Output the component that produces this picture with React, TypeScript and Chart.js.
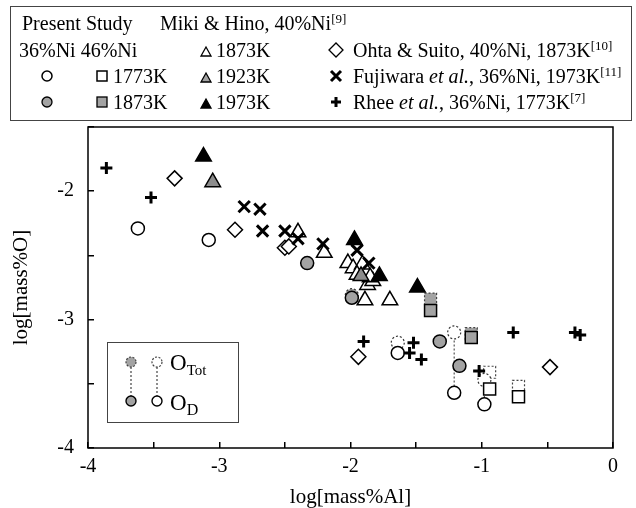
import React, { useEffect, useRef } from 'react';
import { Chart, registerables } from 'chart.js';

Chart.register(...registerables);

// ---- data (log[mass%Al], log[mass%O]) ----
const rheeX = [-3.86, -3.52, -1.9, -1.52, -1.55, -1.46, -1.02, -0.76, -0.29, -0.25];
const rheeY = [-1.82, -2.05, -3.17, -3.18, -3.26, -3.31, -3.4, -3.1, -3.1, -3.12];

const ohtaX = [-3.34, -2.88, -2.5, -2.47, -1.94, -0.48];
const ohtaY = [-1.9, -2.3, -2.44, -2.43, -3.29, -3.37];

const fujiX = [-2.81, -2.69, -2.67, -2.5, -2.4, -2.21, -1.95, -1.86];
const fujiY = [-2.12, -2.14, -2.31, -2.31, -2.37, -2.41, -2.46, -2.56];

const miki1873X = [-2.4, -2.2, -2.02, -1.98, -1.91, -1.95, -1.87, -1.83, -1.85, -1.89, -1.7];
const miki1873Y = [-2.32, -2.48, -2.56, -2.6, -2.57, -2.65, -2.73, -2.7, -2.67, -2.85, -2.85];

const miki1923X = [-3.05, -1.92];
const miki1923Y = [-1.93, -2.66];

const miki1973X = [-3.12, -1.97, -1.78, -1.49];
const miki1973Y = [-1.73, -2.38, -2.66, -2.75];

// Present study, 36%Ni
const ni36K1773DX = [-3.62, -3.08, -1.64, -1.21, -0.98];
const ni36K1773DY = [-2.29, -2.38, -3.26, -3.57, -3.66];
const ni36K1773TotX = [-1.64, -1.21, -0.98];
const ni36K1773TotY = [-3.18, -3.1, -3.47];

const ni36K1873DX = [-2.33, -1.99, -1.32, -1.17];
const ni36K1873DY = [-2.56, -2.83, -3.17, -3.36];
const ni36K1873TotX = [-1.99];
const ni36K1873TotY = [-2.81];

// Present study, 46%Ni
const ni46K1773DX = [-0.94, -0.72];
const ni46K1773DY = [-3.54, -3.6];
const ni46K1773TotX = [-0.94, -0.72];
const ni46K1773TotY = [-3.41, -3.52];

const ni46K1873DX = [-1.39, -1.08];
const ni46K1873DY = [-2.93, -3.14];
const ni46K1873TotX = [-1.39, -1.08];
const ni46K1873TotY = [-2.84, -3.11];

const xTickMin = -4;
const xTickMax = 0;
const yTickMin = -4;
const yTickMax = -1.5;

// ---- helpers ----
const pts = (xs: number[], ys: number[]) => xs.map((x, i) => ({ x, y: ys[i] }));

function ties(totX: number[], totY: number[], dX: number[], dY: number[]) {
  const out: { x: number; y: number }[] = [];
  totX.forEach((x, i) => {
    const j = dX.indexOf(x);
    if (j < 0) return;
    out.push({ x, y: totY[i] });
    out.push({ x, y: dY[j] });
    out.push({ x, y: NaN });
  });
  return out;
}

const SERIF = '"Liberation Serif", "Times New Roman", serif';
const GRAY = '#a3a3a3';

const dashMarkers = {
  id: 'dashMarkers',
  beforeDatasetDraw(chart: any, args: any) {
    const ds = chart.data.datasets[args.index];
    if (ds.dashedMarker) chart.ctx.setLineDash([2, 2]);
  },
  afterDatasetDraw(chart: any) {
    chart.ctx.setLineDash([]);
  },
};

const frame = {
  id: 'frame',
  afterDraw(chart: any) {
    const { ctx, chartArea: a } = chart;
    ctx.save();
    ctx.strokeStyle = '#000';
    ctx.lineWidth = 1.5;
    ctx.strokeRect(a.left, a.top, a.right - a.left, a.bottom - a.top);
    ctx.restore();
  },
};

const textBase: React.CSSProperties = {
  position: 'absolute',
  fontFamily: SERIF,
  fontSize: 20,
  lineHeight: '24px',
  color: '#000',
  whiteSpace: 'nowrap',
};

const Sup = ({ t }: { t: string }) => (
  <span style={{ fontSize: 13, verticalAlign: 7, lineHeight: 0 }}>{t}</span>
);

function T({ x, base, children, size = 20 }: { x: number; base: number; children: any; size?: number }) {
  return <div style={{ ...textBase, left: x, top: base - 18.8, fontSize: size }}>{children}</div>;
}

export default function App() {
  const ref = useRef<HTMLCanvasElement>(null);

  useEffect(() => {
    if (!ref.current) return;
    const tickFont = { family: SERIF, size: 20 };
    const common = { showLine: false, borderColor: '#000', pointBorderWidth: 1.5 };
    const chart = new Chart(ref.current, {
      type: 'scatter',
      data: {
        datasets: [
          { ...common, label: 'Rhee', data: pts(rheeX, rheeY), pointStyle: 'cross', pointRadius: 6, pointBorderWidth: 3, pointBorderColor: '#000' },
          { ...common, label: 'Fujiwara', data: pts(fujiX, fujiY), pointStyle: 'crossRot', pointRadius: 8, pointBorderWidth: 3, pointBorderColor: '#000' },
          { ...common, label: '36%Ni 1773K OD', data: pts(ni36K1773DX, ni36K1773DY), pointStyle: 'circle', pointRadius: 6.5, pointBackgroundColor: '#fff', pointBorderColor: '#000' },
          { ...common, label: '36%Ni 1873K OD', data: pts(ni36K1873DX, ni36K1873DY), pointStyle: 'circle', pointRadius: 6.5, pointBackgroundColor: GRAY, pointBorderColor: '#000' },
          { ...common, label: '46%Ni 1773K OD', data: pts(ni46K1773DX, ni46K1773DY), pointStyle: 'rect', pointRadius: 8.5, pointBackgroundColor: '#fff', pointBorderColor: '#000' },
          { ...common, label: '46%Ni 1873K OD', data: pts(ni46K1873DX, ni46K1873DY), pointStyle: 'rect', pointRadius: 8.5, pointBackgroundColor: GRAY, pointBorderColor: '#000' },
          { ...common, label: 'Miki 1973K', data: pts(miki1973X, miki1973Y), pointStyle: 'triangle', pointRadius: 9, pointBackgroundColor: '#000', pointBorderColor: '#000' },
          { ...common, label: 'Miki 1923K', data: pts(miki1923X, miki1923Y), pointStyle: 'triangle', pointRadius: 9, pointBackgroundColor: '#8c8c8c', pointBorderColor: '#000' },
          { ...common, label: 'Miki 1873K', data: pts(miki1873X, miki1873Y), pointStyle: 'triangle', pointRadius: 9, pointBackgroundColor: '#fff', pointBorderColor: '#000' },
          { ...common, label: 'Ohta', data: pts(ohtaX, ohtaY), pointStyle: 'rectRot', pointRadius: 7.5, pointBackgroundColor: '#fff', pointBorderColor: '#000' },
          { ...common, label: '36%Ni 1773K OTot', dashedMarker: true, data: pts(ni36K1773TotX, ni36K1773TotY), pointStyle: 'circle', pointRadius: 6.5, pointBackgroundColor: '#fff', pointBorderColor: '#333', pointBorderWidth: 1.2 },
          { ...common, label: '36%Ni 1873K OTot', dashedMarker: true, data: pts(ni36K1873TotX, ni36K1873TotY), pointStyle: 'circle', pointRadius: 6.5, pointBackgroundColor: GRAY, pointBorderColor: '#333', pointBorderWidth: 1.2 },
          { ...common, label: '46%Ni 1773K OTot', dashedMarker: true, data: pts(ni46K1773TotX, ni46K1773TotY), pointStyle: 'rect', pointRadius: 8.5, pointBackgroundColor: '#fff', pointBorderColor: '#444', pointBorderWidth: 1.2 },
          { ...common, label: '46%Ni 1873K OTot', dashedMarker: true, data: pts(ni46K1873TotX, ni46K1873TotY), pointStyle: 'rect', pointRadius: 8.5, pointBackgroundColor: GRAY, pointBorderColor: '#444', pointBorderWidth: 1.2 },
          {
            label: 'ties',
            data: [
              ...ties(ni36K1773TotX, ni36K1773TotY, ni36K1773DX, ni36K1773DY),
              ...ties(ni36K1873TotX, ni36K1873TotY, ni36K1873DX, ni36K1873DY),
              ...ties(ni46K1773TotX, ni46K1773TotY, ni46K1773DX, ni46K1773DY),
              ...ties(ni46K1873TotX, ni46K1873TotY, ni46K1873DX, ni46K1873DY),
            ],
            showLine: true,
            spanGaps: false,
            borderColor: '#555',
            borderWidth: 1.2,
            borderDash: [2, 2],
            pointRadius: 0,
          } as any,
        ] as any,
      },
      options: {
        responsive: false,
        animation: false,
        events: [],
        layout: { padding: { left: 0, top: 127, right: 23, bottom: 0 } },
        plugins: { legend: { display: false }, tooltip: { enabled: false } },
        scales: {
          x: {
            type: 'linear',
            min: xTickMin,
            max: xTickMax,
            border: { display: false },
            grid: { drawOnChartArea: false, drawTicks: true, tickLength: -6, color: '#000', lineWidth: 1.5 },
            ticks: {
              stepSize: 0.5,
              padding: 13,
              color: '#000',
              font: tickFont,
              autoSkip: false,
              maxRotation: 0,
              callback: (v: any) => (Number.isInteger(Number(v)) ? String(v) : ''),
            },
            title: { display: true, text: 'log[mass%Al]', color: '#000', font: { family: SERIF, size: 21, lineHeight: 1 }, padding: { top: 0, bottom: 0 } },
            afterFit: (s: any) => { s.height = 60; },
          },
          y: {
            type: 'linear',
            min: yTickMin,
            max: yTickMax,
            border: { display: false },
            grid: { drawOnChartArea: false, drawTicks: true, tickLength: -6, color: '#000', lineWidth: 1.5 },
            ticks: {
              stepSize: 0.5,
              padding: 20,
              color: '#000',
              font: tickFont,
              autoSkip: false,
              callback: (v: any) => (Number.isInteger(Number(v)) ? String(v) : ''),
            },
            title: { display: true, text: 'log[mass%O]', color: '#000', font: { family: SERIF, size: 21, lineHeight: 1 }, padding: { top: 11, bottom: 0 } },
            afterFit: (s: any) => { s.width = 88; },
          },
        },
      } as any,
      plugins: [dashMarkers, frame],
    });
    return () => chart.destroy();
  }, []);

  const k = '#000';
  const sx = 336; // symbol column of the right-hand legend entries
  const tx = 353; // text column of the right-hand legend entries
  return (
    <div style={{ position: 'absolute', left: 0, top: 0, width: 636, height: 508, background: '#fff', overflow: 'hidden' }}>
      <canvas ref={ref} width={636} height={508} style={{ position: 'absolute', left: 0, top: 0 }} />

      {/* top legend */}
      <div style={{ position: 'absolute', left: 10, top: 6, width: 620, height: 113, border: '1.5px solid #444' }} />
      <T x={22} base={30}>Present Study</T>
      <T x={160} base={30}>Miki &amp; Hino, 40%Ni<Sup t="[9]" /></T>
      <T x={19} base={57}>36%Ni 46%Ni</T>
      <T x={216} base={57}>1873K</T>
      <T x={tx} base={57}>Ohta &amp; Suito, 40%Ni, 1873K<Sup t="[10]" /></T>
      <T x={113} base={83}>1773K</T>
      <T x={216} base={83}>1923K</T>
      <T x={tx} base={83}>Fujiwara <i>et al.</i>, 36%Ni, 1973K<Sup t="[11]" /></T>
      <T x={113} base={109}>1873K</T>
      <T x={216} base={109}>1973K</T>
      <T x={tx} base={109}>Rhee <i>et al.</i>, 36%Ni, 1773K<Sup t="[7]" /></T>

      {/* inset legend */}
      <div style={{ position: 'absolute', left: 107, top: 342, width: 130, height: 79, border: '1.5px solid #444' }} />
      <div style={{ ...textBase, left: 170, top: 350, fontSize: 23, lineHeight: '26px' }}>
        O<span style={{ fontSize: 15, verticalAlign: -5 }}>Tot</span>
      </div>
      <div style={{ ...textBase, left: 170, top: 390, fontSize: 23, lineHeight: '26px' }}>
        O<span style={{ fontSize: 16, verticalAlign: -5 }}>D</span>
      </div>

      <svg width={636} height={508} style={{ position: 'absolute', left: 0, top: 0, pointerEvents: 'none' }}>
        {/* top legend symbols */}
        <polygon points="201,56 211,56 206,47" fill="#fff" stroke={k} strokeWidth={1.3} />
        <polygon points={`${sx - 7},50 ${sx},43 ${sx + 7},50 ${sx},57`} fill="#fff" stroke={k} strokeWidth={1.3} />
        <circle cx={47} cy={76} r={5} fill="#fff" stroke={k} strokeWidth={1.5} />
        <rect x={97} y={71} width={10} height={10} fill="#fff" stroke={k} strokeWidth={1.5} />
        <polygon points="201,82 211,82 206,73" fill={GRAY} stroke={k} strokeWidth={1.3} />
        <path d={`M${sx - 5},71 L${sx + 5},81 M${sx + 5},71 L${sx - 5},81`} stroke={k} strokeWidth={3} />
        <circle cx={47} cy={102} r={5} fill={GRAY} stroke={k} strokeWidth={1.3} />
        <rect x={97} y={97} width={10} height={10} fill={GRAY} stroke={k} strokeWidth={1.3} />
        <polygon points="201,108 211,108 206,99" fill={k} stroke={k} strokeWidth={1.3} />
        <path d={`M${sx},97 L${sx},107 M${sx - 5},102 L${sx + 5},102`} stroke={k} strokeWidth={3} />

        {/* inset legend symbols */}
        <line x1={131} y1={367} x2={131} y2={396} stroke="#444" strokeWidth={1.2} strokeDasharray="2 2" />
        <line x1={157} y1={367} x2={157} y2={396} stroke="#444" strokeWidth={1.2} strokeDasharray="2 2" />
        <circle cx={131} cy={362} r={5} fill={GRAY} stroke="#444" strokeWidth={1.2} strokeDasharray="2 1.5" />
        <circle cx={157} cy={362} r={5} fill="#fff" stroke="#444" strokeWidth={1.2} strokeDasharray="2 1.5" />
        <circle cx={131} cy={401} r={5} fill={GRAY} stroke={k} strokeWidth={1.4} />
        <circle cx={157} cy={401} r={5} fill="#fff" stroke={k} strokeWidth={1.4} />
      </svg>
    </div>
  );
}
